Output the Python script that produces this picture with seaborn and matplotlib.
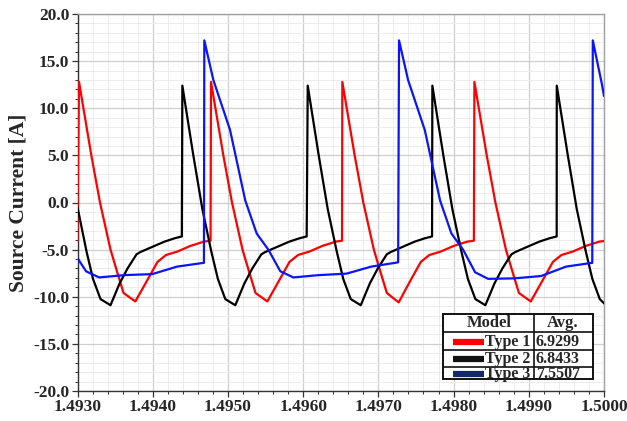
import numpy as np
import pandas as pd
import matplotlib
matplotlib.use("Agg")
import matplotlib.pyplot as plt
from matplotlib.ticker import MultipleLocator, FormatStrFormatter
from matplotlib.lines import Line2D
from matplotlib.patches import Rectangle
import seaborn as sns

# ---------------- data ----------------
red_t = [1.493000, 1.493003, 1.493020, 1.493184, 1.493299, 1.493439, 1.493532, 1.493612, 1.493769,
         1.493931, 1.494064, 1.494177, 1.494330, 1.494503, 1.494682, 1.494769,
         1.494775, 1.494939, 1.495054, 1.495194, 1.495287, 1.495367, 1.495524,
         1.495686, 1.495819, 1.495932, 1.496085, 1.496258, 1.496437, 1.496517,
         1.496521, 1.496685, 1.496800, 1.496940, 1.497033, 1.497113, 1.497270,
         1.497432, 1.497565, 1.497678, 1.497831, 1.498004, 1.498183, 1.498270,
         1.498277, 1.498441, 1.498556, 1.498696, 1.498789, 1.498869, 1.499026,
         1.499188, 1.499321, 1.499434, 1.499587, 1.499760, 1.499939, 1.500000]
red_i = [-4.10, 0.6, 12.8, 5.0, 0.0, -5.0, -7.5, -9.6, -10.5,
         -8.2, -6.3, -5.57, -5.2, -4.6, -4.15, -4.05,
         12.8, 5.0, 0.0, -5.0, -7.5, -9.6, -10.5,
         -8.2, -6.3, -5.57, -5.2, -4.6, -4.15, -4.05,
         12.8, 5.0, 0.0, -5.0, -7.5, -9.6, -10.6,
         -8.2, -6.3, -5.57, -5.2, -4.6, -4.15, -4.05,
         12.8, 5.0, 0.0, -5.0, -7.5, -9.6, -10.5,
         -8.2, -6.3, -5.57, -5.2, -4.6, -4.15, -4.08]

black_t = [1.493000, 1.493120, 1.493206, 1.493306, 1.493439, 1.493559, 1.493665, 1.493785,
           1.493838, 1.493997, 1.494157, 1.494290, 1.494387,
           1.494394, 1.494540, 1.494660, 1.494779, 1.494866, 1.494965, 1.495098, 1.495218,
           1.495324, 1.495444, 1.495497, 1.495657, 1.495817, 1.495950, 1.496047,
           1.496061, 1.496207, 1.496327, 1.496447, 1.496533, 1.496633, 1.496766, 1.496886,
           1.496992, 1.497112, 1.497165, 1.497325, 1.497484, 1.497617, 1.497714,
           1.497718, 1.497864, 1.497984, 1.498104, 1.498190, 1.498290, 1.498423, 1.498543,
           1.498649, 1.498769, 1.498822, 1.498981, 1.499141, 1.499274, 1.499371,
           1.499372, 1.499519, 1.499638, 1.499758, 1.499845, 1.499944, 1.500000]
black_i = [-0.5, -5.2, -8.1, -10.25, -10.9, -8.6, -7.0, -5.5,
           -5.25, -4.7, -4.15, -3.8, -3.6,
           12.4, 5.0, -0.7, -5.2, -8.1, -10.25, -10.9, -8.6,
           -7.0, -5.5, -5.25, -4.7, -4.15, -3.8, -3.6,
           12.4, 5.0, -0.7, -5.2, -8.1, -10.25, -10.9, -8.6,
           -7.0, -5.5, -5.25, -4.7, -4.15, -3.8, -3.6,
           12.4, 5.0, -0.7, -5.2, -8.1, -10.25, -10.9, -8.6,
           -7.0, -5.5, -5.25, -4.7, -4.15, -3.8, -3.6,
           12.4, 5.0, -0.7, -5.2, -8.1, -10.25, -10.7]

blue_t = [1.493000, 1.493114, 1.493287, 1.493633, 1.493992, 1.494324, 1.494681,
          1.494686, 1.494806, 1.495028, 1.495231, 1.495383, 1.495537, 1.495697,
          1.495870, 1.496215, 1.496575, 1.496907, 1.497263,
          1.497275, 1.497395, 1.497617, 1.497821, 1.497972, 1.498126, 1.498286,
          1.498459, 1.498805, 1.499164, 1.499496, 1.499844,
          1.499851, 1.499971, 1.500000]
blue_i = [-5.9, -7.3, -7.95, -7.7, -7.6, -6.8, -6.4,
          17.2, 13.0, 7.7, 0.2, -3.3, -5.0, -7.3,
          -7.95, -7.7, -7.55, -6.8, -6.35,
          17.2, 13.0, 7.7, 0.2, -3.3, -5.0, -7.4,
          -8.1, -8.05, -7.8, -6.8, -6.4,
          17.2, 12.6, 11.3]

models = ["Type 1", "Type 2", "Type 3"]
averages = ["6.9299", "6.8433", "7.5507"]
line_colors = ["#ff0000", "#000000", "#0a14ff"]
legend_colors = ["#ff0000", "#111111", "#14286e"]

y_label = "Source Current [A]"

# ---------------- build frame ----------------
frames = []
for name, t, i in zip(models, [red_t, black_t, blue_t], [red_i, black_i, blue_i]):
    frames.append(pd.DataFrame({"Time": t, "Current": i, "Model": name}))
df = pd.concat(frames, ignore_index=True)

sns.set_theme(style="white")
plt.rcParams["font.family"] = ["Liberation Serif", "DejaVu Serif"]
plt.rcParams["font.weight"] = "bold"

W, H = 627, 421
fig = plt.figure(figsize=(W / 100, H / 100), dpi=100)
ax = fig.add_axes([77.5 / W, 1 - 391 / H, (604 - 77.5) / W, (391 - 14) / H])

sns.lineplot(data=df, x="Time", y="Current", hue="Model", palette=dict(zip(models, line_colors)),
             estimator=None, sort=False, linewidth=1.6, legend=False, ax=ax, zorder=3)

ax.set_xlim(1.4930, 1.5000)
ax.set_ylim(-20, 20)
ax.xaxis.set_major_locator(MultipleLocator(0.001))
ax.xaxis.set_minor_locator(MultipleLocator(0.0002))
ax.yaxis.set_major_locator(MultipleLocator(5))
ax.yaxis.set_minor_locator(MultipleLocator(1))
ax.xaxis.set_major_formatter(FormatStrFormatter("%.4f"))
ax.yaxis.set_major_formatter(FormatStrFormatter("%.1f"))

ax.grid(which="major", color="#cfcfcf", linewidth=0.9, zorder=0)
ax.grid(which="minor", color="#ececec", linewidth=0.7, zorder=0)
ax.set_axisbelow(True)

for side in ["left", "bottom"]:
    ax.spines[side].set_color("#333333")
    ax.spines[side].set_linewidth(1.0)
for side in ["top", "right"]:
    ax.spines[side].set_color("#a0a0a0")
    ax.spines[side].set_linewidth(1.0)

ax.tick_params(which="major", direction="out", length=4, width=0.9, color="#333333",
               labelsize=12.5, left=True, bottom=True, pad=2)
ax.tick_params(which="minor", direction="out", length=2.5, width=0.7, color="#333333",
               left=True, bottom=True)
for lab in ax.get_xticklabels() + ax.get_yticklabels():
    lab.set_fontweight("bold")

ax.set_xlabel("")
ax.set_ylabel(y_label, fontsize=15.5, fontweight="bold", labelpad=3)

# ---------------- legend table ----------------
def fx(px):
    return px / W

def fy(py):
    return 1 - py / H

x0, x1, xm = 443, 593, 534
rows = [314, 332, 350, 367, 379]
fig.add_artist(Rectangle((fx(x0), fy(rows[-1])), fx(x1) - fx(x0), fy(rows[0]) - fy(rows[-1]),
                         transform=fig.transFigure, facecolor="white", edgecolor="#111111",
                         linewidth=1.4, zorder=10))
fig.add_artist(Line2D([fx(xm), fx(xm)], [fy(rows[0]), fy(rows[-1])], transform=fig.transFigure,
                      color="#111111", linewidth=1.2, zorder=11))
for r in rows[1:-1]:
    fig.add_artist(Line2D([fx(x0), fx(x1)], [fy(r), fy(r)], transform=fig.transFigure,
                          color="#111111", linewidth=1.2, zorder=11))

fs = 11.5
fig.text(fx(489), fy((rows[0] + rows[1]) / 2), "Model", ha="center", va="center",
         fontsize=fs + 0.5, fontweight="bold", zorder=12)
fig.text(fx(563), fy((rows[0] + rows[1]) / 2), "Avg.", ha="center", va="center",
         fontsize=fs + 0.5, fontweight="bold", zorder=12)
for k, (name, avg, col) in enumerate(zip(models, averages, legend_colors)):
    yc = fy((rows[k + 1] + rows[k + 2]) / 2 + 0.5)
    fig.add_artist(Line2D([fx(453), fx(484)], [yc, yc], transform=fig.transFigure,
                          color=col, linewidth=4.5, solid_capstyle="butt", zorder=12))
    fig.text(fx(485), yc, name, ha="left", va="center", fontsize=fs, fontweight="bold", zorder=12)
    fig.text(fx(536), yc, avg, ha="left", va="center", fontsize=fs, fontweight="bold", zorder=12)

fig.savefig("out.png", dpi=100)
